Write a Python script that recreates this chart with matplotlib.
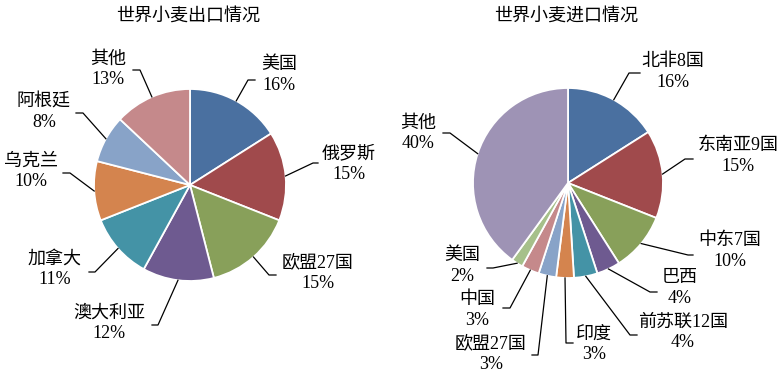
import matplotlib
matplotlib.use('Agg')
import matplotlib.pyplot as plt
import numpy as np

plt.rcParams['font.family'] = ['Liberation Serif', 'Noto Sans CJK SC', 'DejaVu Sans']

# 数据
exp_titulo = '世界小麦出口情况'
exp_nomes = ['美国', '俄罗斯', '欧盟27国', '澳大利亚', '加拿大', '乌克兰', '阿根廷', '其他']
exp_vals = [16, 15, 15, 12, 11, 10, 8, 13]
exp_cores = ['#4a70a0', '#a04a4c', '#88a05a', '#6e5a90', '#4493a6', '#d4844e', '#88a3c8', '#c5898b']

imp_titulo = '世界小麦进口情况'
imp_nomes = ['北非8国', '东南亚9国', '中东7国', '巴西', '前苏联12国', '印度', '欧盟27国', '中国', '美国', '其他']
imp_vals = [16, 15, 10, 4, 4, 3, 3, 3, 2, 40]
imp_cores = ['#4a70a0', '#a04a4c', '#88a05a', '#6e5a90', '#4493a6', '#d4844e', '#88a3c8', '#c5898b', '#a6c08a', '#9e93b5']

# posicoes dos rotulos (pixels): centro do texto, cotovelo da linha, fim horizontal
exp_rot = [((279, 75), (248, 80), 255), ((349, 164), (313, 163), 318),
           ((318, 273), (269, 275), 276), ((109, 323), (158, 325), 152),
           ((55, 269), (95, 272), 89), ((31, 171), (70, 173), 63),
           ((44, 112), (83, 113), 76), ((108, 69), (140, 70), 133)]
imp_rot = [((673, 72), (629, 73), 640), ((738, 156), (685, 159), 693),
           ((730, 251), (688, 255), 693), ((680, 288), (650, 292), 657),
           ((683, 332), (630, 335), 637), ((594, 344), (566, 343), 573),
           ((491, 354), (538, 355), 532), ((477, 310), (510, 308), 503),
           ((462, 266), (493, 268), 487), ((418, 133), (450, 133), 443)]

W, H = 783, 380
fig = plt.figure(figsize=(W / 100, H / 100), dpi=100)
ax = fig.add_axes([0, 0, 1, 1])


def desenha(nomes, vals, cores, rot, cx, cy, r, titulo, tx):
    ax.pie(vals, colors=cores, startangle=90, counterclock=False,
           center=(cx, H - cy), radius=r,
           wedgeprops=dict(edgecolor='white', linewidth=1.3))
    ax.text(tx, H - 16, titulo, ha='center', va='center', fontsize=13)
    tot = float(sum(vals))
    acum = 0.0
    for nome, v, (txt, cot, hx) in zip(nomes, vals, rot):
        ang = np.deg2rad(90 - 360 * (acum + v / 2.0) / tot)
        acum += v
        x0 = cx + r * np.cos(ang)
        y0 = H - cy + r * np.sin(ang)
        ax.plot([x0, cot[0], hx], [y0, H - cot[1], H - cot[1]], color='black', lw=0.9)
        pct = '%d%%' % round(100 * v / tot)
        ax.text(txt[0], H - txt[1], nome + '\n' + pct, ha='center', va='center',
                fontsize=13, linespacing=1.25)


desenha(exp_nomes, exp_vals, exp_cores, exp_rot, 190, 185, 96, exp_titulo, 188)
desenha(imp_nomes, imp_vals, imp_cores, imp_rot, 568, 183, 95, imp_titulo, 566)

ax.set_xlim(0, W)
ax.set_ylim(0, H)
ax.set_aspect('auto')
ax.axis('off')

fig.savefig('out.png', dpi=100)
